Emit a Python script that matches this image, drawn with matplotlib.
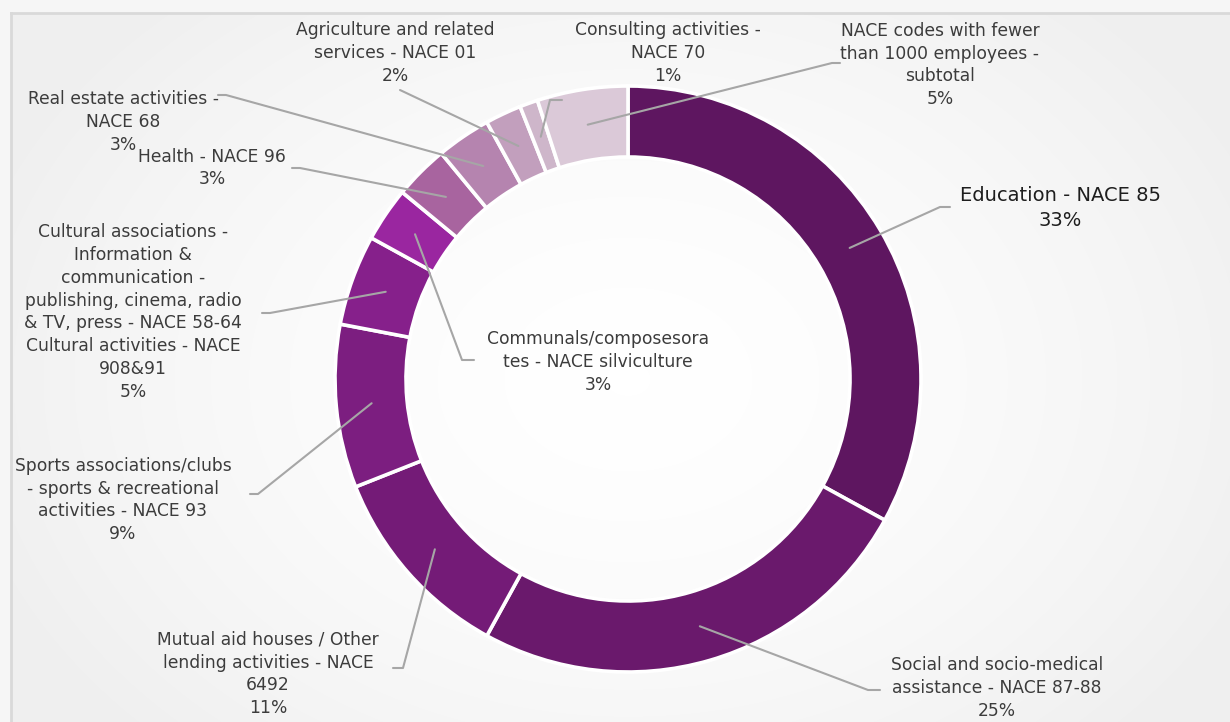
import numpy as np
import matplotlib
matplotlib.use("Agg")
import matplotlib.pyplot as plt
from matplotlib.colors import LinearSegmentedColormap

W, H = 1230, 722

# employment share by NACE activity, clockwise from 12 o'clock
categories = [
    "Education - NACE 85",
    "Social and socio-medical\nassistance - NACE 87-88",
    "Mutual aid houses / Other\nlending activities - NACE\n6492",
    "Sports associations/clubs\n- sports & recreational\nactivities - NACE 93",
    "Cultural associations -\nInformation &\ncommunication -\npublishing, cinema, radio\n& TV, press - NACE 58-64\nCultural activities - NACE\n908&91",
    "Communals/composesora\ntes - NACE silviculture",
    "Health - NACE 96",
    "Real estate activities -\nNACE 68",
    "Agriculture and related\nservices - NACE 01",
    "Consulting activities -\nNACE 70",
    "NACE codes with fewer\nthan 1000 employees -\nsubtotal",
]
shares = [33, 25, 11, 9, 5, 3, 3, 3, 2, 1, 5]
colors = ["#5e1660", "#6a196c", "#741b77", "#7c1e80", "#86208b", "#9a26a0",
          "#a8649f", "#b584af", "#c29fbd", "#ceb6ca", "#dbc9d8"]

# label placement in pixels: text centre, leader elbow, leader tail x
label_pos = [(1060, 208), (997, 688), (268, 674), (123, 500), (133, 312),
             (598, 362), (212, 168), (123, 122), (395, 53), (668, 53), (940, 65)]
elbows = [(940, 207), (868, 690), (403, 668), (258, 494), (270, 313),
          (462, 360), (300, 168), (226, 95), (400, 90), (550, 100), (832, 63)]
tails = [950, 880, 393, 250, 262, 474, 292, 218, 400, 562, 840]

CX, CY = 628, 379
R_OUT, R_IN = 293, 222

fig = plt.figure(figsize=(W / 100, H / 100), dpi=100)

# soft grey background with a white glow behind the ring
bg = fig.add_axes([0, 0, 1, 1])
yy, xx = np.mgrid[0:H, 0:W]
d = np.sqrt(((xx - CX) / 700.0) ** 2 + ((yy - CY) / 520.0) ** 2)
shade = np.clip(d, 0, 1) ** 1.6
bg_cmap = LinearSegmentedColormap.from_list("bg", ["#ffffff", "#efefef"])
bg.imshow(shade, cmap=bg_cmap, vmin=0, vmax=1, extent=(0, W, H, 0), aspect="auto")
bg.fill_between([0, W], 0, 13, color="#f6f6f6", zorder=2)
bg.fill_between([0, 11], 0, H, color="#f6f6f6", zorder=2)
bg.plot([11, W], [13, 13], color="#d9d9d9", lw=2, zorder=3)
bg.plot([11, 11], [13, H], color="#d9d9d9", lw=2, zorder=3)
bg.set_xlim(0, W)
bg.set_ylim(H, 0)
bg.axis("off")

ax = fig.add_axes([0, 0, 1, 1])
ax.patch.set_alpha(0)
# y axis runs downward, so counterclock=True draws clockwise on screen
ax.pie(shares, colors=colors, center=(CX, CY), radius=R_OUT, startangle=-90,
       counterclock=True,
       wedgeprops=dict(width=R_OUT - R_IN, edgecolor="white", linewidth=2.6))
ax.set_xlim(0, W)
ax.set_ylim(H, 0)
ax.set_aspect("equal")
ax.axis("off")

total = float(sum(shares))
start = 0.0
r_mid = (R_OUT + R_IN) / 2
for i, (cat, val) in enumerate(zip(categories, shares)):
    mid = np.deg2rad((start + val / 2) / total * 360)
    start += val
    ax_x = CX + r_mid * np.sin(mid)
    ax_y = CY - r_mid * np.cos(mid)
    ex, ey = elbows[i]
    ax.plot([ax_x, ex, tails[i]], [ax_y, ey, ey], color="#a6a6a6", lw=1.5,
            solid_capstyle="round", zorder=5)
    tx, ty = label_pos[i]
    big = i == 0
    ax.text(tx, ty, f"{cat}\n{val}%", ha="center", va="center",
            fontsize=14 if big else 12.3, color="#1e1e1e" if big else "#3c3c3c",
            linespacing=1.34, family="DejaVu Sans", zorder=6)

fig.savefig("out.png", dpi=100)
